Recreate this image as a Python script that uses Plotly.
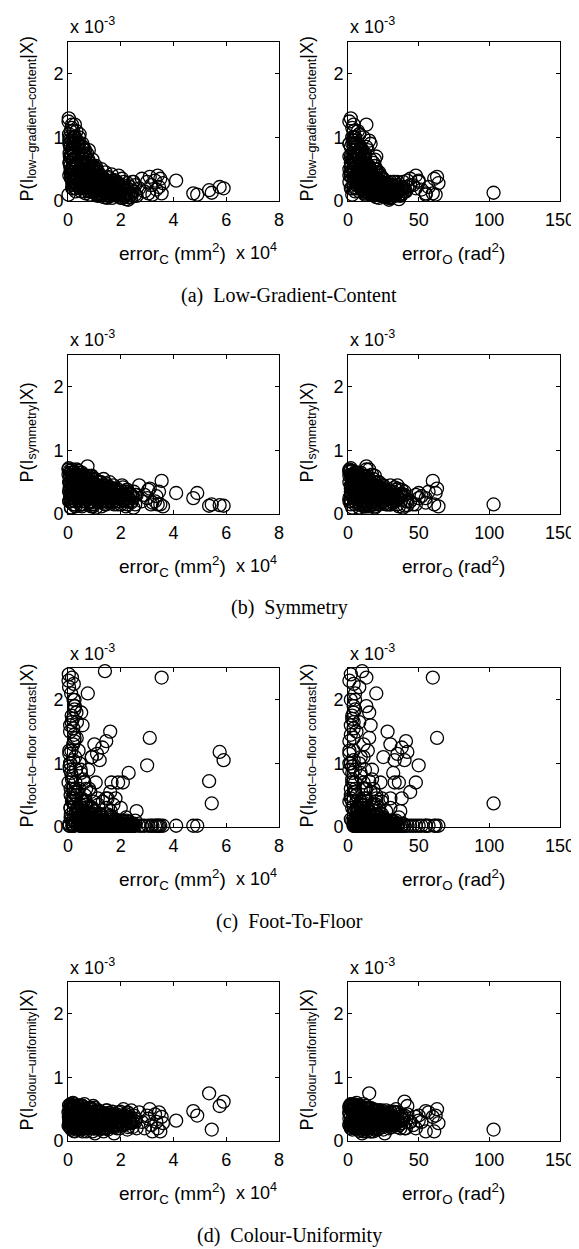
import plotly.graph_objects as go

W, H = 579, 1249
OFF = 8  # default body margin of the page written by write_html

# one entry per sample; err_c is in units of 1e4 mm^2, P values in units of 1e-3
err_c = [
    0.02, 0.05, 0.08, 0.10, 0.12, 0.15, 0.18, 0.20, 0.22, 0.25,
    0.28, 0.03, 0.06, 0.09, 0.11, 0.14, 0.17, 0.19, 0.23, 0.26,
    0.29, 0.04, 0.07, 0.10, 0.13, 0.16, 0.21, 0.24, 0.27, 0.30,
    0.02, 0.05, 0.08, 0.12, 0.15, 0.18, 0.22, 0.25, 0.28, 0.06,
    0.09, 0.14, 0.19, 0.24, 0.29,
    0.32, 0.35, 0.38, 0.40, 0.42, 0.45, 0.48, 0.50, 0.52, 0.55,
    0.58, 0.60, 0.62, 0.65, 0.68, 0.70, 0.33, 0.37, 0.41, 0.44,
    0.47, 0.51, 0.54, 0.57, 0.61, 0.64, 0.67, 0.34, 0.39, 0.43,
    0.49, 0.53, 0.59, 0.63, 0.69,
    0.72, 0.75, 0.78, 0.80, 0.83, 0.86, 0.90, 0.93, 0.96, 1.00,
    1.03, 1.06, 1.10, 1.13, 1.16, 1.20, 0.74, 0.79, 0.85, 0.89,
    0.95, 0.99, 1.05, 1.09, 1.15, 1.18, 0.77, 0.88, 1.02, 1.12,
    1.22, 1.25, 1.28, 1.32, 1.35, 1.38, 1.42, 1.45, 1.48, 1.52,
    1.55, 1.58, 1.62, 1.65, 1.68, 1.72, 1.75, 1.78, 1.27, 1.36,
    1.44, 1.53, 1.61, 1.70, 1.80,
    1.85, 1.90, 1.95, 2.00, 2.05, 2.10, 2.15, 2.20, 2.25, 2.30,
    2.35, 2.40, 2.45, 2.50, 2.55, 2.60, 1.92, 2.08, 2.28, 2.48,
    2.70, 2.80, 2.90, 3.00, 3.05, 3.10, 3.15, 3.20, 3.30, 3.35,
    3.40, 3.45, 3.50, 3.55, 3.60,
    4.10, 4.75, 4.90, 5.35, 5.45, 5.75, 5.90,
    0.75, 0.50, 1.40, 1.00, 1.10, 1.30, 1.45, 1.60, 1.20, 0.90,
    1.90, 1.65, 1.60, 1.80, 1.50,
    0.05, 0.15, 0.25, 0.35, 0.45, 0.55, 0.65, 0.75, 0.85, 0.95,
    1.05, 1.15, 1.25, 0.10, 0.20, 0.30, 0.40, 0.50, 0.60, 0.70,
    0.80, 0.90, 1.00, 1.10, 1.20, 1.30, 1.40, 1.50, 0.12, 0.22,
    0.32, 0.42, 0.52, 0.62, 0.72, 0.82, 0.92, 1.02, 1.12, 1.35,
    1.55, 1.65, 1.75, 1.85, 1.95, 2.05, 2.15, 2.25, 2.35, 0.18,
    0.28, 0.38, 0.48, 0.58, 0.68, 0.78, 0.88, 0.98, 1.08, 1.18,
    1.28, 1.38, 1.48, 1.58, 1.68, 1.78, 1.88, 1.98, 2.12, 2.22,
    0.08, 0.16, 0.26, 0.36, 0.46, 0.56, 0.66, 0.76, 0.86, 0.96,
    0.10, 0.30, 0.50, 0.70, 0.90, 1.10, 1.30, 1.50, 1.70, 1.90,
    2.10, 2.30, 0.20, 0.40, 0.60, 0.80, 1.00, 1.20, 1.40, 1.60,
    1.80, 2.00, 2.20, 2.40, 0.15, 0.35, 0.55, 0.75, 0.95, 1.15,
    1.35, 1.55, 1.75, 1.95, 2.15, 0.25, 0.45, 0.65, 0.85, 1.05,
    1.25, 1.45, 1.65, 1.85, 2.05, 2.25, 0.05, 0.27, 0.47, 0.67,
    0.87, 1.07, 1.27, 1.47, 1.67, 1.87, 2.07, 2.27, 2.45, 2.55,
]

err_o = [
    1, 4, 2, 7, 5, 9, 3, 11, 4, 13,
    6, 2, 5, 1, 8, 3, 12, 6, 2, 10,
    5, 8, 1, 14, 4, 7, 2, 12, 9, 5,
    3, 10, 6, 2, 13, 1, 8, 5, 11, 3,
    7, 4, 10, 1, 9,
    4, 10, 7, 14, 5, 12, 17, 8, 13, 16,
    6, 19, 11, 14, 20, 9, 15, 5, 12, 8,
    18, 4, 13, 17, 10, 20, 12, 8, 3, 15,
    9, 19, 6, 16, 13,
    10, 14, 9, 18, 12, 20, 11, 16, 13, 22,
    15, 19, 12, 24, 17, 21, 13, 8, 16, 11,
    19, 14, 23, 17, 20, 15, 12, 18, 10, 22,
    15, 20, 13, 24, 18, 28, 16, 22, 30, 19,
    25, 14, 27, 21, 32, 17, 26, 23, 12, 29,
    20, 24, 18, 31, 22,
    20, 26, 22, 30, 24, 34, 28, 36, 25, 32,
    38, 27, 35, 40, 30, 37, 23, 33, 29, 39,
    35, 44, 40, 50, 38, 63, 46, 55, 42, 52,
    48, 57, 61, 60, 64,
    50, 55, 62, 15, 103, 42, 40,
    20, 15, 10, 30, 35, 38, 41, 28, 33, 25,
    36, 48, 44, 30, 38,
    1, 3, 5, 6, 8, 9, 10, 12, 13, 15,
    16, 18, 19, 2, 4, 5, 7, 8, 10, 11,
    13, 14, 16, 17, 19, 20, 22, 24, 3, 4,
    6, 7, 9, 10, 11, 13, 14, 15, 17, 21,
    24, 26, 27, 29, 30, 32, 33, 35, 36, 3,
    5, 6, 8, 9, 10, 12, 13, 15, 16, 18,
    19, 21, 22, 24, 25, 27, 28, 30, 32, 34,
    2, 2, 4, 6, 7, 9, 11, 12, 13, 15,
    2, 6, 7, 10, 13, 15, 18, 20, 24, 26,
    28, 31, 4, 5, 9, 11, 14, 16, 19, 22,
    25, 27, 30, 33, 3, 5, 8, 12, 12, 16,
    17, 21, 23, 29, 30, 4, 6, 9, 12, 14,
    18, 19, 24, 25, 27, 32, 1, 5, 6, 10,
    11, 15, 17, 20, 22, 26, 29, 31, 35, 38,
]

p_low_gradient = [
    1.25, 0.95, 0.55, 1.10, 0.35, 0.80, 0.20, 1.00, 0.65, 0.45,
    0.30, 1.30, 0.75, 0.90, 0.50, 1.15, 0.25, 0.60, 0.85, 0.40,
    0.15, 1.05, 0.70, 0.45, 0.95, 0.30, 0.55, 0.75, 0.20, 0.65,
    0.10, 0.60, 0.85, 0.40, 1.20, 0.50, 0.35, 0.90, 0.25, 1.00,
    0.70, 0.45, 0.80, 0.30, 0.55,
    1.10, 0.60, 0.85, 0.30, 1.00, 0.45, 0.20, 0.75, 0.55, 0.90,
    0.35, 0.65, 0.15, 0.80, 0.50, 0.25, 0.95, 0.40, 0.70, 1.05,
    0.30, 0.60, 0.85, 0.20, 0.50, 0.70, 0.12, 0.55, 0.90, 0.40,
    0.65, 0.28, 0.75, 0.45, 0.35,
    0.75, 0.40, 0.20, 0.60, 0.10, 0.50, 0.30, 0.65, 0.15, 0.45,
    0.25, 0.55, 0.35, 0.08, 0.40, 0.20, 0.55, 0.80, 0.35, 0.15,
    0.50, 0.30, 0.40, 0.10, 0.45, 0.28, 0.65, 0.22, 0.52, 0.33,
    0.40, 0.20, 0.30, 0.10, 0.35, 0.15, 0.45, 0.25, 0.05, 0.38,
    0.18, 0.30, 0.08, 0.42, 0.22, 0.33, 0.12, 0.28, 0.50, 0.06,
    0.27, 0.36, 0.14, 0.20, 0.32,
    0.30, 0.15, 0.25, 0.05, 0.35, 0.10, 0.20, 0.03, 0.28, 0.12,
    0.22, 0.06, 0.30, 0.15, 0.25, 0.08, 0.40, 0.18, 0.02, 0.30,
    0.20, 0.35, 0.15, 0.30, 0.12, 0.38, 0.25, 0.10, 0.32, 0.18,
    0.40, 0.22, 0.35, 0.12, 0.28,
    0.32, 0.12, 0.10, 0.17, 0.13, 0.22, 0.20,
    0.30, 0.50, 0.20, 0.30, 0.25, 0.20, 0.15, 0.20, 0.30, 0.35,
    0.15, 0.20, 0.25, 0.10, 0.20,
    0.90, 0.70, 0.50, 0.35, 0.25, 0.60, 0.40, 0.30, 0.20, 0.35,
    0.15, 0.25, 0.12, 0.45, 1.10, 0.20, 0.75, 0.15, 0.80, 0.50,
    0.25, 0.55, 0.30, 0.18, 0.35, 0.20, 0.30, 0.10, 0.35, 0.95,
    0.55, 0.90, 0.35, 0.20, 0.45, 0.60, 0.25, 0.15, 0.40, 0.28,
    0.15, 0.25, 0.10, 0.22, 0.12, 0.25, 0.08, 0.20, 0.10, 0.65,
    1.00, 0.25, 0.60, 0.85, 0.60, 0.15, 0.42, 0.30, 0.50, 0.10,
    0.22, 0.35, 0.18, 0.30, 0.10, 0.20, 0.28, 0.10, 0.30, 0.15,
    0.60, 0.20, 1.20, 0.90, 0.30, 0.45, 0.70, 0.35, 0.25, 0.55,
    0.70, 0.55, 0.45, 0.35, 0.25, 0.20, 0.15, 0.12, 0.10, 0.10,
    0.08, 0.06, 0.90, 0.80, 0.55, 0.30, 0.40, 0.30, 0.22, 0.20,
    0.15, 0.15, 0.10, 0.10, 0.50, 0.60, 0.70, 0.55, 0.50, 0.35,
    0.30, 0.25, 0.20, 0.20, 0.18, 1.00, 0.35, 0.40, 0.45, 0.25,
    0.20, 0.32, 0.28, 0.26, 0.22, 0.20, 0.40, 0.30, 0.20, 0.20,
    0.15, 0.12, 0.10, 0.06, 0.05, 0.08, 0.05, 0.12, 0.15, 0.10,
]

p_symmetry = [
    0.70, 0.50, 0.30, 0.65, 0.20, 0.45, 0.60, 0.15, 0.55, 0.35,
    0.25, 0.72, 0.40, 0.60, 0.10, 0.50, 0.30, 0.65, 0.45, 0.20,
    0.55, 0.35, 0.68, 0.25, 0.50, 0.40, 0.15, 0.60, 0.30, 0.45,
    0.62, 0.20, 0.50, 0.35, 0.70, 0.25, 0.55, 0.40, 0.12, 0.58,
    0.30, 0.48, 0.22, 0.66, 0.38,
    0.60, 0.35, 0.50, 0.20, 0.65, 0.40, 0.25, 0.55, 0.15, 0.45,
    0.30, 0.60, 0.50, 0.20, 0.40, 0.35, 0.70, 0.25, 0.55, 0.45,
    0.15, 0.50, 0.30, 0.62, 0.40, 0.20, 0.55, 0.35, 0.68, 0.25,
    0.48, 0.12, 0.58, 0.30, 0.42,
    0.55, 0.30, 0.45, 0.20, 0.60, 0.35, 0.15, 0.50, 0.40, 0.25,
    0.55, 0.10, 0.45, 0.30, 0.20, 0.50, 0.75, 0.40, 0.25, 0.60,
    0.15, 0.48, 0.35, 0.22, 0.42, 0.30, 0.58, 0.18, 0.38, 0.50,
    0.50, 0.30, 0.40, 0.20, 0.55, 0.25, 0.35, 0.15, 0.45, 0.30,
    0.40, 0.50, 0.22, 0.35, 0.18, 0.45, 0.28, 0.38, 0.12, 0.32,
    0.48, 0.20, 0.42, 0.25, 0.35,
    0.40, 0.25, 0.35, 0.15, 0.45, 0.20, 0.30, 0.12, 0.38, 0.22,
    0.32, 0.18, 0.28, 0.35, 0.15, 0.30, 0.20, 0.42, 0.25, 0.10,
    0.45, 0.20, 0.30, 0.25, 0.38, 0.40, 0.15, 0.18, 0.20, 0.28,
    0.15, 0.35, 0.15, 0.52, 0.12,
    0.33, 0.25, 0.33, 0.13, 0.15, 0.14, 0.13,
    0.30, 0.40, 0.35, 0.25, 0.40, 0.30, 0.20, 0.35, 0.30, 0.45,
    0.25, 0.30, 0.20, 0.35, 0.30,
    0.50, 0.30, 0.15, 0.45, 0.60, 0.20, 0.35, 0.55, 0.30, 0.12,
    0.40, 0.25, 0.50, 0.20, 0.60, 0.45, 0.30, 0.15, 0.50, 0.40,
    0.25, 0.60, 0.35, 0.20, 0.45, 0.30, 0.15, 0.40, 0.10, 0.35,
    0.50, 0.25, 0.65, 0.30, 0.42, 0.18, 0.55, 0.30, 0.20, 0.45,
    0.25, 0.38, 0.15, 0.30, 0.20, 0.35, 0.25, 0.15, 0.30, 0.45,
    0.20, 0.55, 0.35, 0.25, 0.50, 0.40, 0.12, 0.45, 0.32, 0.22,
    0.38, 0.18, 0.42, 0.28, 0.20, 0.35, 0.15, 0.30, 0.22, 0.38,
    0.30, 0.62, 0.40, 0.28, 0.52, 0.15, 0.30, 0.60, 0.20, 0.42,
    0.40, 0.50, 0.30, 0.45, 0.35, 0.40, 0.30, 0.35, 0.30, 0.25,
    0.30, 0.25, 0.25, 0.20, 0.40, 0.50, 0.30, 0.35, 0.40, 0.25,
    0.35, 0.28, 0.35, 0.20, 0.55, 0.35, 0.45, 0.30, 0.45, 0.25,
    0.40, 0.30, 0.40, 0.30, 0.25, 0.30, 0.60, 0.25, 0.35, 0.45,
    0.20, 0.25, 0.35, 0.20, 0.30, 0.32, 0.20, 0.45, 0.40, 0.55,
    0.25, 0.35, 0.30, 0.28, 0.25, 0.35, 0.28, 0.20, 0.25, 0.30,
]

p_foot_floor = [
    2.30, 0.05, 1.60, 0.30, 2.10, 0.80, 0.10, 1.30, 0.02, 1.90,
    0.50, 2.40, 0.02, 1.00, 0.20, 1.75, 0.60, 0.02, 1.45, 0.35,
    0.08, 2.20, 0.90, 0.15, 1.20, 0.02, 2.00, 0.45, 1.10, 0.25,
    0.70, 0.02, 1.50, 0.12, 2.35, 0.40, 0.02, 1.85, 0.60, 0.95,
    0.30, 1.65, 0.05, 1.35, 0.20,
    1.80, 0.30, 0.05, 1.20, 0.60, 0.02, 0.90, 0.15, 0.45, 1.60,
    0.02, 0.25, 0.70, 0.08, 0.40, 0.02, 1.40, 0.55, 0.12, 1.00,
    0.35, 0.02, 0.20, 0.75, 0.05, 0.50, 0.02, 1.65, 0.30, 0.10,
    0.85, 0.02, 0.40, 0.18, 0.60,
    0.02, 0.30, 0.10, 0.60, 0.02, 0.15, 1.10, 0.02, 0.40, 0.05,
    0.25, 0.02, 0.12, 0.45, 0.02, 0.20, 0.08, 0.02, 0.55, 0.30,
    0.02, 0.15, 0.70, 0.02, 0.35, 0.05, 0.90, 0.02, 0.20, 0.10,
    0.02, 0.20, 0.05, 0.40, 0.02, 0.10, 0.02, 0.30, 0.05, 0.02,
    0.15, 0.02, 0.25, 0.02, 0.08, 0.35, 0.02, 0.12, 0.02, 0.05,
    0.45, 0.02, 0.18, 0.02, 0.10,
    0.02, 0.10, 0.02, 0.30, 0.02, 0.05, 0.02, 0.15, 0.02, 0.85,
    0.02, 0.05, 0.02, 0.02, 0.10, 0.25, 0.02, 0.70, 0.02, 0.05,
    0.02, 0.02, 0.02, 0.97, 0.02, 1.40, 0.02, 0.02, 0.02, 0.02,
    0.02, 0.02, 0.02, 2.35, 0.02,
    0.02, 0.02, 0.02, 0.72, 0.37, 1.18, 1.05,
    2.10, 1.80, 2.45, 1.30, 1.15, 1.25, 1.35, 1.50, 1.05, 1.10,
    0.70, 0.70, 0.55, 0.45, 0.45,
    1.20, 0.40, 2.00, 0.15, 0.05, 0.30, 0.02, 0.20, 0.10, 0.02,
    0.08, 0.02, 0.15, 0.60, 1.55, 0.90, 0.25, 0.10, 0.02, 0.35,
    0.05, 0.02, 0.20, 0.02, 0.10, 0.02, 0.05, 0.20, 0.85, 2.25,
    0.50, 0.15, 0.02, 0.25, 0.05, 0.10, 0.30, 0.02, 0.15, 0.02,
    0.05, 0.02, 0.10, 0.02, 0.05, 0.02, 0.08, 0.02, 0.05, 1.70,
    0.70, 0.20, 0.05, 0.40, 0.02, 0.15, 0.02, 0.25, 0.05, 0.02,
    0.10, 0.02, 0.05, 0.02, 0.12, 0.02, 0.05, 0.02, 0.02, 0.10,
    1.00, 0.45, 1.90, 0.30, 0.10, 0.02, 0.20, 0.05, 0.02, 0.10,
    0.50, 0.05, 0.10, 0.02, 0.05, 0.10, 0.02, 0.06, 0.02, 0.05,
    0.02, 0.08, 1.05, 0.25, 0.02, 0.15, 0.05, 0.02, 0.10, 0.05,
    0.02, 0.06, 0.02, 0.02, 0.75, 0.12, 0.20, 0.05, 0.02, 0.04,
    0.02, 0.08, 0.02, 0.03, 0.02, 1.40, 0.08, 0.35, 0.02, 0.12,
    0.05, 0.02, 0.04, 0.02, 0.10, 0.02, 1.15, 0.55, 0.02, 0.10,
    0.30, 0.02, 0.06, 0.02, 0.15, 0.02, 0.02, 0.05, 0.02, 0.02,
]

p_colour = [
    0.45, 0.30, 0.55, 0.20, 0.40, 0.50, 0.25, 0.35, 0.58, 0.15,
    0.48, 0.38, 0.28, 0.52, 0.42, 0.18, 0.33, 0.60, 0.22, 0.46,
    0.36, 0.56, 0.26, 0.44, 0.31, 0.50, 0.20, 0.40, 0.54, 0.30,
    0.24, 0.47, 0.35, 0.57, 0.28, 0.43, 0.16, 0.52, 0.38, 0.32,
    0.49, 0.27, 0.41, 0.55, 0.34,
    0.50, 0.30, 0.45, 0.20, 0.55, 0.35, 0.40, 0.25, 0.50, 0.15,
    0.42, 0.32, 0.58, 0.22, 0.47, 0.37, 0.28, 0.52, 0.18, 0.44,
    0.34, 0.56, 0.26, 0.40, 0.30, 0.48, 0.20, 0.38, 0.54, 0.24,
    0.46, 0.33, 0.27, 0.50, 0.36,
    0.40, 0.25, 0.50, 0.30, 0.20, 0.45, 0.35, 0.15, 0.55, 0.28,
    0.42, 0.32, 0.22, 0.48, 0.38, 0.18, 0.30, 0.52, 0.26, 0.44,
    0.34, 0.20, 0.40, 0.30, 0.46, 0.24, 0.36, 0.50, 0.12, 0.32,
    0.35, 0.20, 0.45, 0.30, 0.15, 0.40, 0.25, 0.48, 0.32, 0.18,
    0.42, 0.28, 0.38, 0.22, 0.46, 0.30, 0.12, 0.40, 0.26, 0.34,
    0.20, 0.44, 0.30, 0.36, 0.24,
    0.30, 0.45, 0.20, 0.38, 0.25, 0.50, 0.32, 0.42, 0.18, 0.35,
    0.28, 0.48, 0.22, 0.40, 0.30, 0.20, 0.36, 0.26, 0.44, 0.33,
    0.45, 0.30, 0.20, 0.40, 0.35, 0.50, 0.25, 0.15, 0.42, 0.30,
    0.20, 0.45, 0.15, 0.38, 0.28,
    0.32, 0.47, 0.40, 0.75, 0.18, 0.55, 0.62,
    0.30, 0.40, 0.35, 0.25, 0.30, 0.40, 0.20, 0.35, 0.45, 0.30,
    0.25, 0.38, 0.30, 0.22, 0.40,
    0.35, 0.50, 0.20, 0.42, 0.30, 0.55, 0.25, 0.38, 0.45, 0.20,
    0.32, 0.48, 0.28, 0.58, 0.22, 0.40, 0.50, 0.30, 0.35, 0.15,
    0.45, 0.28, 0.52, 0.38, 0.20, 0.42, 0.30, 0.25, 0.48, 0.36,
    0.26, 0.44, 0.18, 0.50, 0.34, 0.40, 0.22, 0.46, 0.30, 0.38,
    0.25, 0.42, 0.32, 0.20, 0.40, 0.28, 0.36, 0.45, 0.30, 0.55,
    0.30, 0.40, 0.22, 0.50, 0.35, 0.28, 0.45, 0.20, 0.38, 0.32,
    0.42, 0.26, 0.48, 0.34, 0.22, 0.40, 0.30, 0.46, 0.25, 0.38,
    0.50, 0.24, 0.40, 0.33, 0.56, 0.20, 0.44, 0.30, 0.52, 0.36,
    0.30, 0.35, 0.25, 0.40, 0.30, 0.35, 0.25, 0.30, 0.40, 0.25,
    0.35, 0.30, 0.25, 0.40, 0.30, 0.35, 0.25, 0.30, 0.35, 0.40,
    0.30, 0.25, 0.35, 0.28, 0.35, 0.20, 0.40, 0.20, 0.30, 0.45,
    0.20, 0.40, 0.25, 0.32, 0.40, 0.30, 0.20, 0.35, 0.42, 0.20,
    0.30, 0.22, 0.35, 0.42, 0.25, 0.38, 0.25, 0.30, 0.32, 0.28,
    0.35, 0.25, 0.40, 0.20, 0.30, 0.25, 0.38, 0.22, 0.30, 0.35,
]

for arr in (err_o, p_low_gradient, p_symmetry, p_foot_floor, p_colour):
    assert len(arr) == len(err_c)

rows = [
    ("low–gradient–content", p_low_gradient, "(a)  Low-Gradient-Content"),
    ("symmetry", p_symmetry, "(b)  Symmetry"),
    ("foot–to–floor contrast", p_foot_floor, "(c)  Foot-To-Floor"),
    ("colour–uniformity", p_colour, "(d)  Colour-Uniformity"),
]

# pixel geometry of the axes boxes (screen pixels)
row_top = [42, 355, 668, 982]
box_h = 159
cols = [(68, 279), (348, 560)]

SANS = "Liberation Sans, Arial, Helvetica, sans-serif"
SERIF = "Liberation Serif, Times New Roman, serif"

FW, FH = W - OFF, H - OFF


def fx(px):
    return (px - OFF) / FW


def fy(py):
    return 1 - (py - OFF) / FH


fig = go.Figure()
annotations = []
n = 0
for r, (name, pvals, caption) in enumerate(rows):
    top = row_top[r]
    bottom = top + box_h
    for c, (xl, xr) in enumerate(cols):
        n += 1
        xs = err_c if c == 0 else err_o
        sfx = "" if n == 1 else str(n)
        fig.add_trace(go.Scatter(
            x=xs, y=pvals, mode="markers", xaxis="x" + sfx, yaxis="y" + sfx,
            marker=dict(symbol="circle-open", size=13, color="black",
                        line=dict(width=1.3, color="black")),
            cliponaxis=False, showlegend=False,
        ))
        common = dict(showline=True, linecolor="black", linewidth=1, mirror="ticks",
                      ticks="inside", ticklen=4, tickwidth=1, tickcolor="black",
                      showgrid=False, zeroline=False, automargin=False,
                      tickfont=dict(family=SANS, size=18, color="black"))
        if c == 0:
            xr_ = [0, 8]
            xt = [0, 2, 4, 6, 8]
        else:
            xr_ = [0, 150]
            xt = [0, 50, 100, 150]
        fig.layout["xaxis" + sfx] = dict(domain=[fx(xl), fx(xr)], range=xr_, tickvals=xt,
                                         anchor="y" + sfx, ticklabelstandoff=2, **common)
        fig.layout["yaxis" + sfx] = dict(domain=[fy(bottom), fy(top)], range=[0, 2.5],
                                         tickvals=[0, 1, 2], anchor="x" + sfx, **common)

        # exponent above the axes
        annotations.append(dict(x=fx(xl), y=fy(top - 16), xref="paper", yref="paper",
                                text="x 10<sup>-3</sup>", showarrow=False,
                                xanchor="left", yanchor="middle",
                                font=dict(family=SANS, size=18, color="black")))
        # y axis title
        annotations.append(dict(x=fx(xl - 40), y=fy(top + box_h / 2 - 2), xref="paper", yref="paper",
                                text="P(I<sub>%s</sub>|X)" % name, textangle=-90,
                                showarrow=False, xanchor="center", yanchor="middle",
                                font=dict(family=SANS, size=18, color="black")))
        # x axis title
        if c == 0:
            xtitle = "error<sub>C</sub> (mm<sup>2</sup>)"
        else:
            xtitle = "error<sub>O</sub> (rad<sup>2</sup>)"
        annotations.append(dict(x=fx((xl + xr) / 2 - 1), y=fy(bottom + 52), xref="paper", yref="paper",
                                text=xtitle, showarrow=False, xanchor="center", yanchor="middle",
                                font=dict(family=SANS, size=19, color="black")))
        if c == 0:
            annotations.append(dict(x=fx(xr), y=fy(bottom + 50), xref="paper", yref="paper",
                                    text="x 10<sup>4</sup>", showarrow=False,
                                    xanchor="right", yanchor="middle",
                                    font=dict(family=SANS, size=18, color="black")))
    annotations.append(dict(x=fx(289), y=fy(bottom + 94), xref="paper", yref="paper",
                            text=caption, showarrow=False, xanchor="center", yanchor="middle",
                            font=dict(family=SERIF, size=20, color="black")))

fig.update_layout(
    template="none",
    width=FW, height=FH,
    margin=dict(l=0, r=0, t=0, b=0),
    paper_bgcolor="white", plot_bgcolor="white",
    annotations=annotations,
)

fig.write_html("out.html")
